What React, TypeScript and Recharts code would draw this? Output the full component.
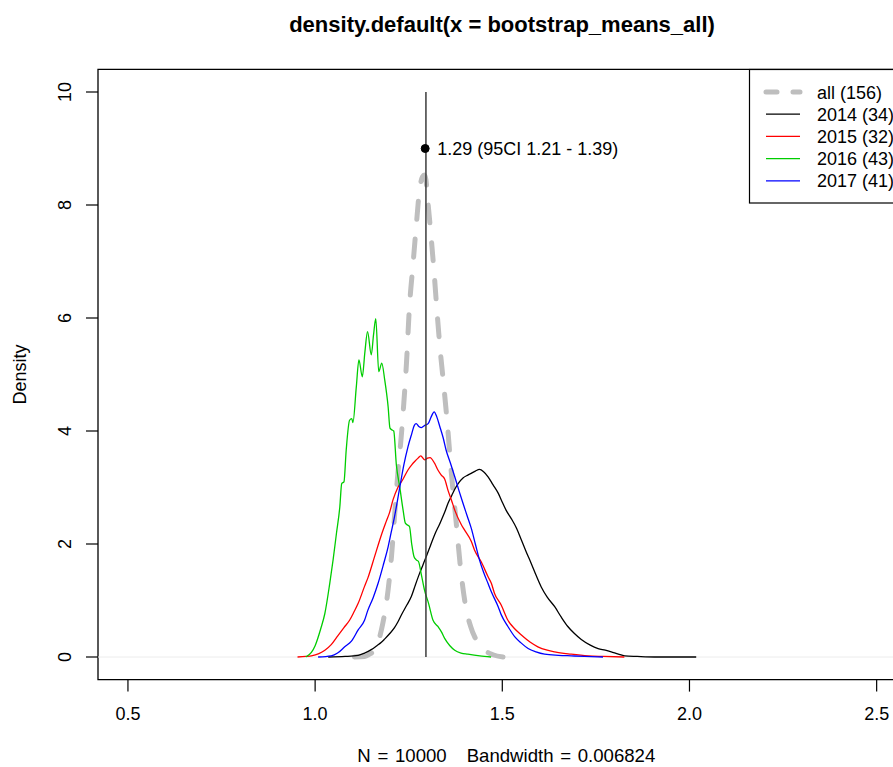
import React from 'react';
import {
  LineChart,
  Line,
  XAxis,
  YAxis,
  ReferenceLine,
  ReferenceDot,
  ReferenceArea,
  Legend,
} from 'recharts';

const FONT = '"Liberation Sans", Arial, Helvetica, sans-serif';

const titleText = 'density.default(x = bootstrap_means_all)';
const xLabelText = 'N = 10000   Bandwidth = 0.006824';
const yLabelText = 'Density';
const annText = '1.29 (95CI 1.21 - 1.39)';

const xTicks = [0.5, 1.0, 1.5, 2.0, 2.5];
const yTicks = [0, 2, 4, 6, 8, 10];
const xDomain = [0.42, 2.58];
const yDomain = [-0.4, 10.4];

const meanValue = 1.296;
const meanLineTop = 10;
const annPoint = { x: 1.294, y: 9 };

// all (156)
const allX = [1.105, 1.132, 1.145, 1.159, 1.17, 1.181, 1.195, 1.204, 1.212, 1.221, 1.23, 1.237, 1.244, 1.252, 1.261, 1.27, 1.279, 1.287, 1.292, 1.296, 1.3, 1.309, 1.318, 1.326, 1.335, 1.344, 1.353, 1.364, 1.377, 1.39, 1.404, 1.415, 1.426, 1.44, 1.453, 1.475, 1.502];
const allY = [0, 0.01, 0.05, 0.12, 0.3, 0.6, 1.19, 1.78, 2.48, 3.25, 3.9, 4.5, 5.2, 6.2, 6.91, 7.62, 8.27, 8.5, 8.53, 8.45, 8.15, 7.5, 6.79, 6.08, 5.37, 4.78, 4.14, 3.25, 2.37, 1.48, 0.83, 0.55, 0.36, 0.22, 0.12, 0.04, 0];

// 2014 (34)
const y2014X = [1.035, 1.08, 1.115, 1.132, 1.15, 1.165, 1.177, 1.186, 1.2, 1.212, 1.221, 1.23, 1.245, 1.257, 1.268, 1.279, 1.288, 1.297, 1.308, 1.319, 1.333, 1.346, 1.355, 1.365, 1.373, 1.382, 1.395, 1.408, 1.417, 1.428, 1.439, 1.45, 1.462, 1.475, 1.489, 1.5, 1.51, 1.524, 1.538, 1.551, 1.564, 1.577, 1.59, 1.604, 1.62, 1.64, 1.658, 1.675, 1.692, 1.711, 1.735, 1.756, 1.775, 1.791, 1.81, 1.827, 1.86, 1.907, 2.018];
const y2014Y = [0, 0.01, 0.03, 0.07, 0.13, 0.2, 0.26, 0.32, 0.42, 0.52, 0.62, 0.74, 0.92, 1.07, 1.28, 1.48, 1.63, 1.78, 1.97, 2.16, 2.36, 2.56, 2.72, 2.86, 2.97, 3.07, 3.17, 3.22, 3.25, 3.29, 3.32, 3.28, 3.19, 3.05, 2.9, 2.74, 2.6, 2.45, 2.28, 2.07, 1.86, 1.66, 1.45, 1.24, 1.06, 0.89, 0.7, 0.54, 0.42, 0.31, 0.21, 0.15, 0.12, 0.09, 0.05, 0.02, 0.01, 0, 0];

// 2015 (32)
const y2015X = [0.953, 0.975, 0.99, 1.01, 1.026, 1.043, 1.061, 1.077, 1.092, 1.104, 1.115, 1.132, 1.141, 1.159, 1.177, 1.19, 1.199, 1.208, 1.221, 1.235, 1.248, 1.258, 1.266, 1.275, 1.282, 1.293, 1.3, 1.307, 1.319, 1.328, 1.337, 1.346, 1.355, 1.364, 1.373, 1.39, 1.399, 1.417, 1.426, 1.444, 1.462, 1.471, 1.479, 1.497, 1.515, 1.533, 1.551, 1.575, 1.595, 1.62, 1.64, 1.684, 1.729, 1.77, 1.826];
const y2015Y = [0, 0.01, 0.02, 0.06, 0.12, 0.22, 0.38, 0.52, 0.65, 0.8, 0.95, 1.25, 1.4, 1.78, 2.16, 2.4, 2.56, 2.78, 3.0, 3.15, 3.31, 3.4, 3.46, 3.52, 3.56, 3.49, 3.52, 3.53, 3.43, 3.31, 3.22, 3.15, 2.95, 2.78, 2.6, 2.35, 2.25, 2.05, 1.89, 1.68, 1.42, 1.3, 1.13, 0.92, 0.65, 0.5, 0.39, 0.26, 0.18, 0.12, 0.09, 0.05, 0.02, 0.01, 0];

// 2016 (43)
const y2016X = [0.975, 0.99, 1.0, 1.015, 1.026, 1.039, 1.048, 1.057, 1.066, 1.071, 1.077, 1.083, 1.092, 1.098, 1.101, 1.11, 1.117, 1.126, 1.133, 1.14, 1.15, 1.156, 1.162, 1.17, 1.178, 1.186, 1.195, 1.2, 1.205, 1.21, 1.217, 1.226, 1.235, 1.241, 1.248, 1.252, 1.258, 1.264, 1.27, 1.276, 1.284, 1.292, 1.303, 1.315, 1.328, 1.337, 1.346, 1.36, 1.373, 1.39, 1.408, 1.44, 1.47];
const y2016Y = [0, 0.08, 0.2, 0.5, 0.77, 1.3, 1.72, 2.19, 2.66, 3.07, 3.1, 3.66, 4.19, 4.22, 4.15, 4.78, 5.26, 4.96, 5.4, 5.76, 5.35, 5.7, 5.99, 5.05, 5.2, 4.9, 4.43, 4.05, 4.02, 4.0, 3.4, 3.01, 2.6, 2.37, 2.33, 2.31, 2.0, 1.78, 1.72, 1.69, 1.45, 1.19, 0.95, 0.65, 0.54, 0.45, 0.33, 0.2, 0.12, 0.07, 0.05, 0.02, 0];

// 2017 (41)
const y2017X = [1.008, 1.043, 1.06, 1.079, 1.097, 1.115, 1.132, 1.141, 1.155, 1.168, 1.183, 1.195, 1.203, 1.212, 1.226, 1.237, 1.248, 1.258, 1.265, 1.27, 1.277, 1.284, 1.293, 1.302, 1.31, 1.318, 1.325, 1.333, 1.342, 1.35, 1.362, 1.373, 1.384, 1.395, 1.406, 1.417, 1.428, 1.439, 1.45, 1.462, 1.471, 1.489, 1.497, 1.515, 1.533, 1.55, 1.569, 1.59, 1.613, 1.65, 1.684, 1.72, 1.769];
const y2017Y = [0, 0.02, 0.07, 0.18, 0.28, 0.48, 0.65, 0.83, 1.05, 1.3, 1.65, 1.95, 2.2, 2.48, 3.0, 3.4, 3.72, 3.95, 4.1, 4.13, 4.08, 4.06, 4.1, 4.13, 4.25, 4.34, 4.25, 4.08, 3.88, 3.66, 3.42, 3.19, 2.95, 2.72, 2.5, 2.28, 2.0, 1.72, 1.5, 1.3, 1.15, 0.89, 0.75, 0.54, 0.36, 0.25, 0.15, 0.09, 0.05, 0.03, 0.02, 0.01, 0];

const toPts = (xs: number[], ys: number[]) => xs.map((x, i) => ({ x, y: ys[i] }));

const series = [
  { name: 'all (156)', color: '#bebebe', width: 5, dash: '18 20', legendDash: '11 16', data: toPts(allX, allY) },
  { name: '2014 (34)', color: '#000000', width: 1.3, dash: undefined, legendDash: undefined, data: toPts(y2014X, y2014Y) },
  { name: '2015 (32)', color: '#ff0000', width: 1.3, dash: undefined, legendDash: undefined, data: toPts(y2015X, y2015Y) },
  { name: '2016 (43)', color: '#00cd00', width: 1.3, dash: undefined, legendDash: undefined, data: toPts(y2016X, y2016Y) },
  { name: '2017 (41)', color: '#0000ff', width: 1.3, dash: undefined, legendDash: undefined, data: toPts(y2017X, y2017Y) },
];

const XTick = (props: any) => {
  const { x, y, payload } = props;
  return (
    <text x={x} y={y + 28.4} textAnchor="middle" fontSize={18} fontFamily={FONT} fill="#000">
      {Number(payload.value).toFixed(1)}
    </text>
  );
};

const YTick = (props: any) => {
  const { x, y, payload } = props;
  const bx = x - 15.3;
  return (
    <text
      x={bx}
      y={y}
      transform={`rotate(-90, ${bx}, ${y})`}
      textAnchor="middle"
      fontSize={18}
      fontFamily={FONT}
      fill="#000"
    >
      {String(payload.value)}
    </text>
  );
};

const XLab = (props: any) => {
  const vb = props.viewBox || { x: 98, y: 680, width: 809, height: 60 };
  const cx = vb.x + vb.width / 2 + 4;
  return (
    <text
      x={cx}
      y={vb.y + 82.5}
      textAnchor="middle"
      fontSize={18.6}
      fontFamily={FONT}
      fill="#000"
      style={{ whiteSpace: 'pre', wordSpacing: '1.5px' }}
    >
      {xLabelText}
    </text>
  );
};

const YLab = (props: any) => {
  const vb = props.viewBox || { x: 0, y: 69.4, width: 98, height: 610 };
  const cy = vb.y + vb.height / 2;
  const bx = 26;
  return (
    <text x={bx} y={cy} transform={`rotate(-90, ${bx}, ${cy})`} textAnchor="middle" fontSize={18} fontFamily={FONT} fill="#000">
      {yLabelText}
    </text>
  );
};

const AnnLabel = (props: any) => {
  const vb = props.viewBox || { x: 0, y: 0, width: 0, height: 0 };
  const cx = vb.x + (vb.width || 0) / 2;
  const cy = vb.y + (vb.height || 0) / 2;
  return (
    <text x={cx + 12} y={cy + 6.5} fontSize={18} fontFamily={FONT} fill="#000">
      {annText}
    </text>
  );
};

const renderLegend = () => (
  <svg width={160} height={135} style={{ display: 'block', overflow: 'visible' }}>
    <rect x={0.5} y={0.5} width={158} height={133.5} fill="#fff" stroke="#000" strokeWidth={1.2} />
    {series.map((s, i) => {
      const cy = 23 + i * 22.2;
      return (
        <g key={s.name}>
          <line
            x1={17}
            x2={51}
            y1={cy}
            y2={cy}
            stroke={s.color}
            strokeWidth={s.width === 5 ? 5 : 1.2}
            strokeDasharray={s.legendDash}
            strokeLinecap={s.legendDash ? 'round' : 'butt'}
          />
          <text x={68} y={cy + 6.5} fontSize={18} fontFamily={FONT} fill="#000">
            {s.name}
          </text>
        </g>
      );
    })}
  </svg>
);

export default function App() {
  return (
    <div
      style={{
        position: 'absolute',
        left: 0,
        top: 0,
        width: 893,
        height: 767,
        overflow: 'hidden',
        background: '#fff',
        fontFamily: FONT,
      }}
    >
      <LineChart
        width={920}
        height={767}
        margin={{ top: 69.4, right: 13.4, bottom: 27.4, left: 0 }}
      >
        <XAxis
          type="number"
          dataKey="x"
          domain={xDomain}
          ticks={xTicks}
          interval={0}
          allowDataOverflow
          axisLine={false}
          tickLine={{ stroke: '#000', strokeWidth: 1.2 }}
          tickSize={12}
          tickMargin={0}
          tick={<XTick />}
          height={60}
          label={<XLab />}
        />
        <YAxis
          type="number"
          dataKey="y"
          domain={yDomain}
          ticks={yTicks}
          interval={0}
          allowDataOverflow
          axisLine={false}
          tickLine={{ stroke: '#000', strokeWidth: 1.2 }}
          tickSize={12}
          tickMargin={0}
          tick={<YTick />}
          width={98}
          label={<YLab />}
        />
        <ReferenceLine y={0} stroke="#ececec" strokeWidth={1} />
        {series.map((s) => (
          <Line
            key={s.name}
            data={s.data}
            dataKey="y"
            name={s.name}
            type="monotone"
            stroke={s.color}
            strokeWidth={s.width}
            strokeDasharray={s.dash}
            strokeLinecap={s.dash ? 'round' : 'butt'}
            dot={false}
            activeDot={false}
            isAnimationActive={false}
          />
        ))}
        <ReferenceLine
          segment={[
            { x: meanValue, y: 0 },
            { x: meanValue, y: meanLineTop },
          ]}
          stroke="#3c3c3c"
          strokeWidth={1.5}
        />
        <ReferenceDot x={annPoint.x} y={annPoint.y} r={4} fill="#000" stroke="#000" label={<AnnLabel />} />
        <ReferenceArea
          x1={xDomain[0]}
          x2={xDomain[1]}
          y1={yDomain[0]}
          y2={yDomain[1]}
          fill="none"
          fillOpacity={0}
          stroke="#000"
          strokeWidth={1.3}
        />
        <Legend
          layout="vertical"
          align="center"
          verticalAlign="middle"
          content={renderLegend}
          wrapperStyle={{ left: 749, top: 69, width: 160, height: 135, margin: 0 }}
        />
      </LineChart>
      <svg
        width={893}
        height={60}
        style={{ position: 'absolute', left: 0, top: 0, pointerEvents: 'none' }}
      >
        <text x={502} y={32} textAnchor="middle" fontSize={22} fontWeight="bold" fontFamily={FONT} fill="#000">
          {titleText}
        </text>
      </svg>
    </div>
  );
}
